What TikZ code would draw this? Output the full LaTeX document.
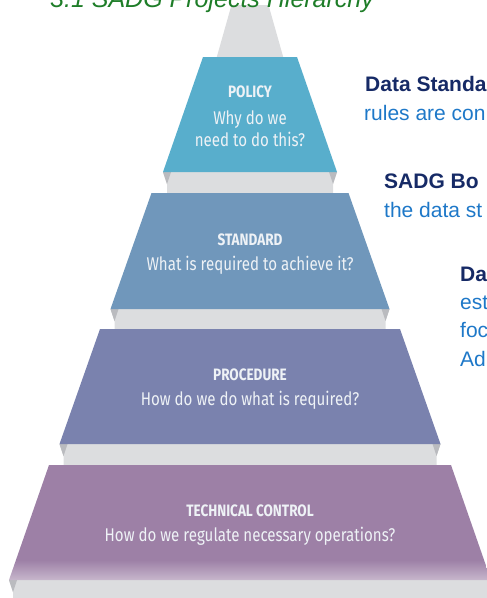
\documentclass[tikz,border=0pt]{standalone}
\usepackage{fontspec}
\setmainfont{Liberation Sans}
\newfontfamily\condfont[FakeStretch=0.82]{Fira Sans}

\definecolor{policyblue}{RGB}{88,174,204}
\definecolor{standardblue}{RGB}{112,151,187}
\definecolor{procedureblue}{RGB}{122,130,174}
\definecolor{controlpurple}{RGB}{157,128,166}
\definecolor{stepgrey}{RGB}{220,221,223}
\definecolor{sidegrey}{RGB}{186,187,191}
\definecolor{labelwhite}{RGB}{238,242,246}
\definecolor{navy}{RGB}{22,42,102}
\definecolor{textblue}{RGB}{30,120,200}
\definecolor{titlegreen}{RGB}{30,125,40}

\begin{document}
\begin{tikzpicture}[x=1pt, y=-1pt,
    layertitle/.style={font=\condfont\bfseries\fontsize{16.5}{18}\selectfont, text=labelwhite},
    layerquestion/.style={font=\condfont\fontsize{18.4}{22}\selectfont, text=labelwhite, align=center},
    headline/.style={font=\bfseries\fontsize{21}{25}\selectfont, text=navy, anchor=base west, inner sep=0pt},
    bodyline/.style={font=\fontsize{21}{25}\selectfont, text=textblue, anchor=base west, inner sep=0pt}]
        \useasboundingbox (0,0) rectangle (487,598);
        \clip (0,0) rectangle (487,598);

        % graue Spitze
        \fill[stepgrey] (231.5,5) -- (268.5,5) -- (283.5,58) -- (216.5,58) -- cycle;

        % Ueberschrift (oben abgeschnitten)
        \node[font=\itshape\fontsize{25}{30}\selectfont, text=titlegreen, anchor=base west, inner sep=0pt] (title) at (50,7) {3.1 SADG Projects Hierarchy};

        % graue Stufen zwischen den Ebenen
        \fill[stepgrey] (163,172) -- (167,184) -- (167,193) -- (333,193) -- (333,184) -- (337,172) -- cycle;
        \fill[sidegrey] (163,172) -- (171,172) -- (167,184) -- cycle;
        \fill[sidegrey] (337,172) -- (329,172) -- (333,184) -- cycle;

        \fill[stepgrey] (110.5,309) -- (114.5,321) -- (114.5,329) -- (385.5,329) -- (385.5,321) -- (389.5,309) -- cycle;
        \fill[sidegrey] (110.5,309) -- (118.5,309) -- (114.5,321) -- cycle;
        \fill[sidegrey] (389.5,309) -- (381.5,309) -- (385.5,321) -- cycle;

        \fill[stepgrey] (59.5,444) -- (63.5,456) -- (63.5,465) -- (436.5,465) -- (436.5,456) -- (440.5,444) -- cycle;
        \fill[sidegrey] (59.5,444) -- (67.5,444) -- (63.5,456) -- cycle;
        \fill[sidegrey] (440.5,444) -- (432.5,444) -- (436.5,456) -- cycle;

        \fill[stepgrey] (9,580) -- (13,592) -- (13,600) -- (487,600) -- (491,580) -- cycle;
        \fill[sidegrey] (9,580) -- (17,580) -- (13,592) -- cycle;

        % Ebenen der Pyramide
        \fill[policyblue] (203,57) -- (297,57) -- (337,172) -- (163,172) -- cycle;
        \fill[standardblue] (151.5,193) -- (348.5,193) -- (389.5,309) -- (110.5,309) -- cycle;
        \fill[procedureblue] (100,329) -- (400,329) -- (440.5,444) -- (59.5,444) -- cycle;
        \begin{scope}
            \clip (49,465) -- (451,465) -- (491,580) -- (9,580) -- cycle;
            \fill[controlpurple] (0,465) rectangle (500,560);
            \shade[top color=controlpurple, bottom color=controlpurple!55!white] (0,560) rectangle (500,581);
        \end{scope}

        % Beschriftung der Ebenen
        \node[layertitle] (policy) at (250,92) {POLICY};
        \node[layerquestion] (policy-q) at (250,129) {Why do we\\need to do this?};
        \node[layertitle] (standard) at (250,240) {STANDARD};
        \node[layerquestion] (standard-q) at (250,265) {What is required to achieve it?};
        \node[layertitle] (procedure) at (250,375) {PROCEDURE};
        \node[layerquestion] (procedure-q) at (250,400) {How do we do what is required?};
        \node[layertitle] (control) at (250,511) {TECHNICAL CONTROL};
        \node[layerquestion] (control-q) at (250,536) {How do we regulate necessary operations?};

        % Text rechts (abgeschnitten)
        \node[headline] (datastd) at (365,91) {Data Standa};
        \node[bodyline] (rules) at (364,120) {rules are con};
        \node[headline] (board) at (384,188) {SADG Bo};
        \node[bodyline] (datast) at (384,217) {the data st};
        \node[headline] (da) at (460,281) {Da};
        \node[bodyline] (est) at (460,309) {est};
        \node[bodyline] (foc) at (460,337) {foc};
        \node[bodyline] (ad) at (460,366) {Ad};
    \end{tikzpicture}
\end{document}
